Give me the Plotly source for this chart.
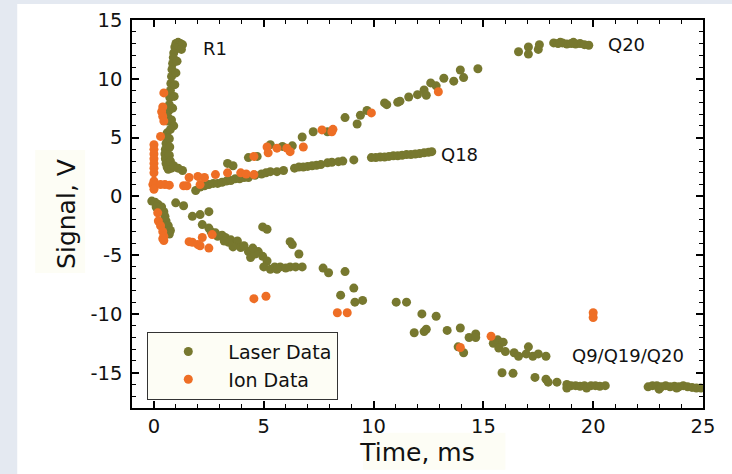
import plotly.graph_objects as go

# ---- Laser Data (olive) ----
laser_t = [
    # R1 column
    1.2, 1.1, 1.0, 1.15, 0.95, 1.05, 0.9, 0.88, 0.85, 0.82, 0.8, 0.77, 0.75, 0.72, 0.7, 0.68, 0.65,
    0.62, 0.6, 0.58, 0.55, 0.52, 0.5, 0.52, 0.55, 0.6, 0.65, 0.8, 1.3,
    1.3, 1.25, 1.05, 1.0, 0.95, 0.92, 0.85, 0.8, 0.9, 0.75, 0.7, 0.72, 0.7, 0.75, 0.9, 1.1,
    # Q18 branch
    1.9, 2.1, 2.3, 2.5, 2.7, 2.9, 3.1, 3.3, 3.5, 3.7, 3.9, 4.1, 4.3, 4.6, 4.9, 5.1, 5.3, 5.6, 5.9,
    6.4, 6.6, 6.8, 7.0, 7.2, 7.4, 7.6, 7.9, 8.1, 8.4, 8.6, 9.1, 9.9, 10.1, 10.3, 10.5, 10.7, 10.9,
    11.1, 11.3, 11.5, 11.7, 11.9, 12.1, 12.3, 12.5, 12.65, 3.35, 3.6,
    # Q20 branch
    4.3, 4.7, 5.3, 5.85, 6.3, 6.75, 7.25, 7.9, 8.7, 9.25, 9.4, 9.7, 10.5, 10.6, 11.1, 11.2, 11.6,
    12.0, 12.3, 12.4, 12.6, 12.85, 13.2, 13.65, 13.95, 14.1, 14.75, 16.6, 17.05, 17.05, 17.5, 17.55,
    18.2, 18.4, 18.6, 18.8, 19.0, 19.2, 19.4, 19.6, 19.8, 18.5, 19.1,
    # lower branch near origin
    -0.1, 0.05, 0.2, 0.35, 0.45, 0.5, 0.55, 0.65, 0.75, 0.7, 0.1, 0.3, 0.99, 1.35,
    # lower branch middle
    1.75, 2.1, 2.5, 2.2, 2.5, 2.6, 2.9, 3.25, 3.5, 3.8, 3.6, 3.95, 4.3, 4.4, 4.75, 4.95, 5.15, 5.0,
    5.3, 5.5, 5.75, 6.0, 6.2, 6.45, 6.75, 5.6, 4.95, 5.15, 6.2, 6.3, 6.6, 7.7, 7.95, 8.7, 8.5, 9.1,
    9.15, 9.5, 3.1, 3.4, 4.1, 4.6, 4.5, 3.2, 2.8,
    # lower branch late
    11.03, 11.5, 12.2, 12.85, 11.85, 12.3, 12.4, 13.35, 13.95, 13.85, 14.1, 14.35, 14.65, 14.65,
    15.45, 15.65, 15.9, 15.7, 16.0, 16.4, 16.6, 16.95, 17.05, 17.25, 17.5, 17.85, 15.85, 16.35,
    17.35, 17.85, 17.95, 18.35,
    18.8, 18.8, 19.0, 19.2, 19.4, 19.6, 19.7, 19.9, 20.1, 20.3, 20.55,
    22.5, 22.7, 22.9, 23.0, 23.1, 23.3, 23.5, 23.7, 23.9, 24.1, 24.3, 24.5, 24.7, 24.9, 23.8,
]
laser_v = [
    13.0, 13.1, 13.0, 12.8, 12.7, 12.6, 12.2, 11.8, 11.3, 10.8, 10.2, 9.6, 9.0, 8.4, 7.8, 7.3, 6.7,
    6.4, 5.4, 5.0, 4.5, 4.0, 3.6, 3.2, 2.8, 2.5, 2.3, 2.4, 2.2,
    12.9, 12.5, 11.5, 10.5, 9.5, 8.5, 7.5, 6.5, 6.0, 5.7, 4.9, 4.2, 3.5, 3.0, 2.6, 2.4,
    0.5, 0.8, 0.9, 1.0, 1.1, 1.1, 1.2, 1.3, 1.35, 1.5, 1.5, 1.6, 1.6, 1.8, 1.9, 2.0, 2.1, 2.1, 2.2,
    2.4, 2.5, 2.5, 2.55, 2.6, 2.65, 2.7, 2.85, 2.9, 2.95, 3.0, 3.1, 3.3, 3.3, 3.35, 3.35, 3.4, 3.45,
    3.45, 3.5, 3.55, 3.55, 3.6, 3.65, 3.7, 3.75, 3.8, 2.8, 2.6,
    3.3, 3.4, 4.4, 4.25, 4.3, 5.05, 5.5, 5.5, 6.7, 6.15, 6.9, 7.3, 7.95, 7.8, 8.0, 8.1, 8.45,
    8.65, 9.05, 8.6, 9.65, 9.4, 10.05, 9.8, 10.75, 10.1, 10.85, 12.3, 12.7, 12.1, 12.5, 12.9,
    13.05, 13.0, 13.05, 12.95, 13.0, 12.95, 13.0, 12.9, 12.85, 13.1, 13.1,
    -0.4, -0.5, -0.7, -0.9, -1.3, -1.7, -2.1, -2.5, -2.9, -3.2, -0.9, -1.1, -0.55, -0.8,
    -1.7, -1.55, -1.3, -2.4, -2.7, -3.0, -3.4, -3.5, -3.7, -3.8, -4.3, -4.35, -4.7, -5.2, -4.7, -5.1,
    -5.5, -6.0, -6.2, -6.0, -6.0, -6.1, -6.0, -6.0, -6.0, -6.2, -2.6, -2.8, -3.85, -4.1, -4.9, -6.1,
    -6.5, -6.4, -8.4, -7.8, -9.0, -8.85, -3.3, -3.9, -4.2, -4.9, -4.4, -3.8, -3.1,
    -9.0, -9.0, -10.0, -10.2, -11.6, -11.5, -11.3, -11.4, -11.2, -12.8, -13.3, -12.0, -11.7, -12.0,
    -12.5, -12.2, -12.4, -12.9, -13.2, -13.3, -13.6, -13.4, -12.8, -13.6, -13.4, -13.6, -15.0, -15.05,
    -15.4, -15.55, -15.8, -15.8,
    -16.0, -16.3, -16.1, -16.1, -16.15, -16.1, -16.3, -16.1, -16.1, -16.15, -16.1,
    -16.2, -16.1, -16.1, -16.4, -16.2, -16.1, -16.2, -16.15, -16.2, -16.1, -16.2, -16.25, -16.3, -16.3, -16.3,
]

# ---- Ion Data (orange) ----
ion_t = [
    0.0, 0.0, 0.0, 0.0, 0.0, 0.0, 0.0, 0.0, -0.05, 0.1, 0.3, 0.5, 0.7, 0.0,
    0.45, 0.4, 0.35, 0.4, 0.45, 0.3,
    0.17, 0.2, 0.3, 0.4, 0.45, 0.4, 0.45,
    1.35, 1.5, 1.6, 2.0, 2.1, 2.3, 2.8, 3.35, 3.95, 4.2, 4.55,
    4.55, 5.15, 5.2, 5.6, 6.05, 6.2, 6.8, 7.65, 8.1, 8.15, 9.9, 12.95,
    1.6, 1.75, 2.0, 2.1, 2.2, 2.5, 2.65, 4.55, 5.1, 8.35, 8.8, 13.95, 15.35, 20.0, 20.0,
]
ion_v = [
    4.4, 4.0, 3.6, 3.2, 2.8, 2.4, 2.0, 1.3, 1.0, 1.0, 1.0, 1.0, 0.95, 0.6,
    8.8, 7.6, 7.2, 6.8, 6.4, 5.1,
    -1.4, -2.1, -2.5, -3.0, -3.4, -3.6, -3.75,
    0.9, 0.9, 1.6, 1.7, 1.0, 1.6, 1.85, 2.0, 2.0, 1.9, 1.85,
    3.4, 4.2, 3.7, 4.1, 4.1, 3.8, 4.2, 5.65, 5.5, 5.7, 7.1, 8.9,
    -3.85, -3.9, -4.1, -4.2, -3.5, -4.4, -3.25, -8.7, -8.5, -9.9, -9.9, -12.85, -11.9, -9.9, -10.3,
]

x_ticks = [0, 5, 10, 15, 20, 25]
y_ticks = [-15, -10, -5, 0, 5, 10, 15]

labels = ["R1", "Q20", "Q18", "Q9/Q19/Q20"]
label_t = [2.12, 20.57, 13.0, 18.93]
label_v = [12.6, 12.9, 3.6, -13.5]

OLIVE = "#77782f"
ORANGE = "#ee6e25"
FONT = "DejaVu Sans"

fig = go.Figure()
fig.add_trace(go.Scatter(x=laser_t, y=laser_v, mode="markers", name="Laser Data",
                         marker=dict(size=9, color=OLIVE, line=dict(width=0))))
fig.add_trace(go.Scatter(x=ion_t, y=ion_v, mode="markers", name="Ion Data",
                         marker=dict(size=9, color=ORANGE, line=dict(width=0))))

for txt, tx, ty in zip(labels, label_t, label_v):
    fig.add_annotation(x=tx, y=ty, text=txt, showarrow=False, xanchor="left", yanchor="middle",
                       font=dict(family=FONT, size=18, color="#111111"))

axis_common = dict(
    showline=True, linecolor="black", linewidth=1.5, mirror="allticks",
    ticks="inside", ticklen=7, tickwidth=1.5, tickcolor="black",
    showgrid=False, zeroline=False,
    tickfont=dict(family=FONT, size=19.5, color="#111111"),
    minor=dict(ticks="inside", ticklen=4, tickwidth=1.2, tickcolor="black", dtick=1, showgrid=False),
)

fig.update_xaxes(range=[-1, 25], tickmode="array", tickvals=x_ticks,
                 ticktext=[str(v) for v in x_ticks],
                 title=dict(text="Time, ms", font=dict(family=FONT, size=25, color="#111111"), standoff=6),
                 **axis_common)
fig.update_yaxes(range=[-18, 15], tickmode="array", tickvals=y_ticks,
                 ticktext=[str(v) for v in y_ticks], ticklabelstandoff=4,
                 title=dict(text="Signal, V", font=dict(family=FONT, size=25, color="#111111"), standoff=8),
                 **axis_common)

shapes = [
    dict(type="rect", xref="paper", yref="paper", x0=-0.201, x1=1.2, y0=-0.3, y1=1.0412,
         fillcolor="white", line=dict(width=0), layer="below"),
    dict(type="rect", xref="paper", yref="paper", x0=0.405, x1=0.654, y0=-0.159, y1=-0.064,
         fillcolor="#fdfdf5", line=dict(width=0), layer="below"),
    dict(type="rect", xref="paper", yref="paper", x0=-0.1695, x1=-0.082, y0=0.348, y1=0.665,
         fillcolor="#fdfdf5", line=dict(width=0), layer="below"),
]

fig.update_layout(
    width=732, height=474,
    margin=dict(l=132, r=29, t=20, b=66, autoexpand=False),
    paper_bgcolor="#e4e9f1", plot_bgcolor="rgba(0,0,0,0)",
    shapes=shapes,
    showlegend=True,
    legend=dict(x=0.0268, y=0.0214, xanchor="left", yanchor="bottom",
                bgcolor="#fdfdf5", bordercolor="#333333", borderwidth=1,
                itemwidth=70, font=dict(family=FONT, size=19, color="#111111")),
    font=dict(family=FONT),
)

fig.write_html("out.html", config={"displayModeBar": False},
               post_script="document.body.style.margin='0';document.body.style.overflow='hidden';")
